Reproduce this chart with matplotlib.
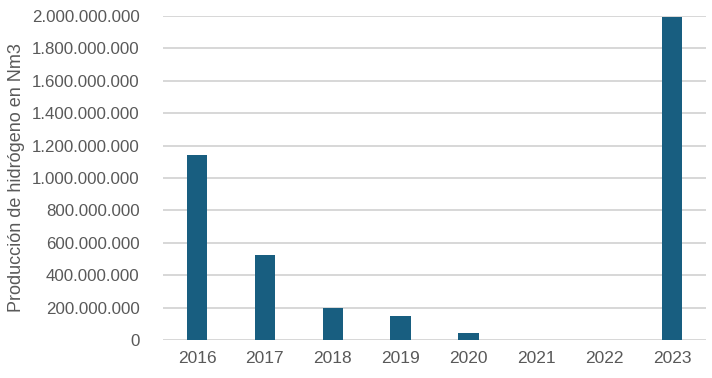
import matplotlib
matplotlib.use("Agg")
import matplotlib.pyplot as plt
from matplotlib.ticker import FuncFormatter, MultipleLocator

years = ["2016", "2017", "2018", "2019", "2020", "2021", "2022", "2023"]
values = [1142000000, 525000000, 198000000, 148000000, 43000000, 0, 0, 1994000000]

plt.rcParams['font.family'] = ['Liberation Sans', 'DejaVu Sans']

fig = plt.figure(figsize=(7.12, 3.78), dpi=100)
ax = fig.add_axes([0.229, 0.1005, 0.7626, 0.8572])

x = range(len(years))
ax.bar(x, values, width=0.3, color="#185E80", zorder=3)
ax.set_xlim(-0.5, len(years) - 0.5)
ax.set_ylim(0, 2000000000)
ax.yaxis.set_major_locator(MultipleLocator(200000000))
ax.yaxis.set_major_formatter(FuncFormatter(lambda v, p: f"{int(round(v)):,}".replace(",", ".")))
ax.set_xticks(list(x))
ax.set_xticklabels(years)
ax.grid(axis="y", color="#D4D4D4", linewidth=1.3, zorder=0)
for s in ax.spines.values():
    s.set_visible(False)
ax.tick_params(axis="y", length=0, labelsize=12.2, colors="#595959", pad=17)
ax.tick_params(axis="x", length=0, labelsize=12.5, colors="#595959", pad=8)
ax.set_ylabel("Producción de hidrógeno en Nm3", fontsize=13, color="#595959", labelpad=5)

fig.savefig("out.png", dpi=100)
